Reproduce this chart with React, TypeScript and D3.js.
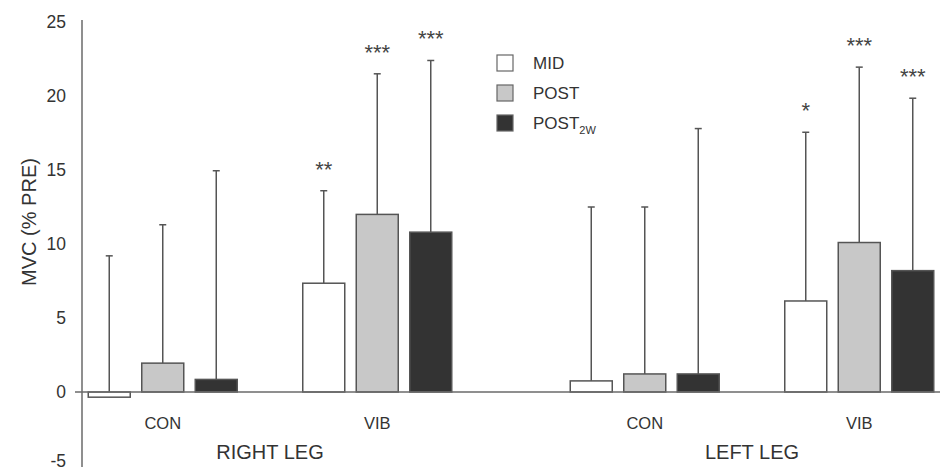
import React from "react";
import * as d3 from "d3";

const legs = ["RIGHT LEG", "LEFT LEG"];
const conditions = ["CON", "VIB"];
const series = ["MID", "POST", "POST2W"];

// values per leg/condition, in series order
const rightConMeans = [-0.35, 1.95, 0.85];
const rightConErr = [9.2, 11.3, 14.95];
const rightVibMeans = [7.35, 12.0, 10.8];
const rightVibErr = [13.6, 21.5, 22.4];
const leftConMeans = [0.75, 1.22, 1.22];
const leftConErr = [12.5, 12.5, 17.8];
const leftVibMeans = [6.15, 10.1, 8.2];
const leftVibErr = [17.55, 21.95, 19.85];

const rightVibStars = ["**", "***", "***"];
const leftVibStars = ["*", "***", "***"];

const yTicks = [-5, 0, 5, 10, 15, 20, 25];

const fills: Record<string, string> = { MID: "#ffffff", POST: "#c8c8c8", POST2W: "#333333" };

export default function App() {
  const W = 946, H = 472;
  const y = d3.scaleLinear().domain([-5, 25]).range([466, 22]);
  const xLeg = d3.scalePoint<string>().domain(legs).range([270, 752]);
  const xCond = d3.scalePoint<string>().domain(conditions).range([-107.25, 107.25]);
  const xSer = d3.scalePoint<string>().domain(series).range([-53.5, 53.5]);
  const barW = 42;

  const groups = [
    { leg: "RIGHT LEG", cond: "CON", means: rightConMeans, errs: rightConErr, stars: null as string[] | null },
    { leg: "RIGHT LEG", cond: "VIB", means: rightVibMeans, errs: rightVibErr, stars: rightVibStars },
    { leg: "LEFT LEG", cond: "CON", means: leftConMeans, errs: leftConErr, stars: null },
    { leg: "LEFT LEG", cond: "VIB", means: leftVibMeans, errs: leftVibErr, stars: leftVibStars },
  ];

  const font = "'Liberation Sans', Arial, sans-serif";
  const axisColor = "#6a6a6a";
  const textColor = "#333";
  const y0 = y(0);

  return (
    <svg width={W} height={H} style={{ position: "absolute", left: 0, top: 0, background: "#fff" }} fontFamily={font}>
      {/* y axis */}
      <line x1={82} x2={82} y1={20} y2={467} stroke={axisColor} strokeWidth={1.5} />
      {yTicks.map((t) => (
        <text key={t} x={66} y={Math.min(y(t), 461)} dy="0.35em" textAnchor="end" fontSize={17.5} fill={textColor}>
          {t}
        </text>
      ))}
      <text
        transform={`translate(36,${222}) rotate(-90)`}
        textAnchor="middle"
        fontSize={20}
        fill={textColor}
      >
        MVC (% PRE)
      </text>

      {/* bars */}
      {groups.map((g, gi) => {
        const cx = (xLeg(g.leg) as number) + (xCond(g.cond) as number);
        return (
          <g key={gi}>
            {series.map((s, i) => {
              const sx = cx + (xSer(s) as number);
              const v = g.means[i];
              const top = y(Math.max(v, 0));
              const bot = y(Math.min(v, 0));
              const eTop = y(g.errs[i]);
              return (
                <g key={s}>
                  <line x1={sx} x2={sx} y1={y(v)} y2={eTop} stroke="#555" strokeWidth={1.5} />
                  <line x1={sx - 3.5} x2={sx + 3.5} y1={eTop} y2={eTop} stroke="#555" strokeWidth={1.5} />
                  <rect x={sx - barW / 2} y={top} width={barW} height={bot - top} fill={fills[s]} stroke="#555" strokeWidth={1.5} />
                  {g.stars && (
                    <text x={sx} y={eTop - 14} textAnchor="middle" fontSize={22} fill="#444">
                      {g.stars[i]}
                    </text>
                  )}
                </g>
              );
            })}
            <text x={cx} y={429} textAnchor="middle" fontSize={16.5} fill={textColor}>
              {g.cond}
            </text>
          </g>
        );
      })}

      {/* zero line */}
      <line x1={75} x2={940} y1={y0} y2={y0} stroke={axisColor} strokeWidth={1.5} />

      {legs.map((l) => (
        <text key={l} x={xLeg(l) as number} y={459} textAnchor="middle" fontSize={20} fill={textColor}>
          {l}
        </text>
      ))}

      {/* legend */}
      {series.map((s, i) => (
        <g key={s} transform={`translate(497,${55 + i * 30})`}>
          <rect x={0} y={0} width={16} height={16} fill={fills[s]} stroke="#666" strokeWidth={1.2} />
          <text x={36} y={8} dy="0.35em" fontSize={17} fill={textColor}>
            {s === "POST2W" ? (
              <>
                POST
                <tspan fontSize={11} dy="5">2W</tspan>
              </>
            ) : (
              s
            )}
          </text>
        </g>
      ))}
    </svg>
  );
}
